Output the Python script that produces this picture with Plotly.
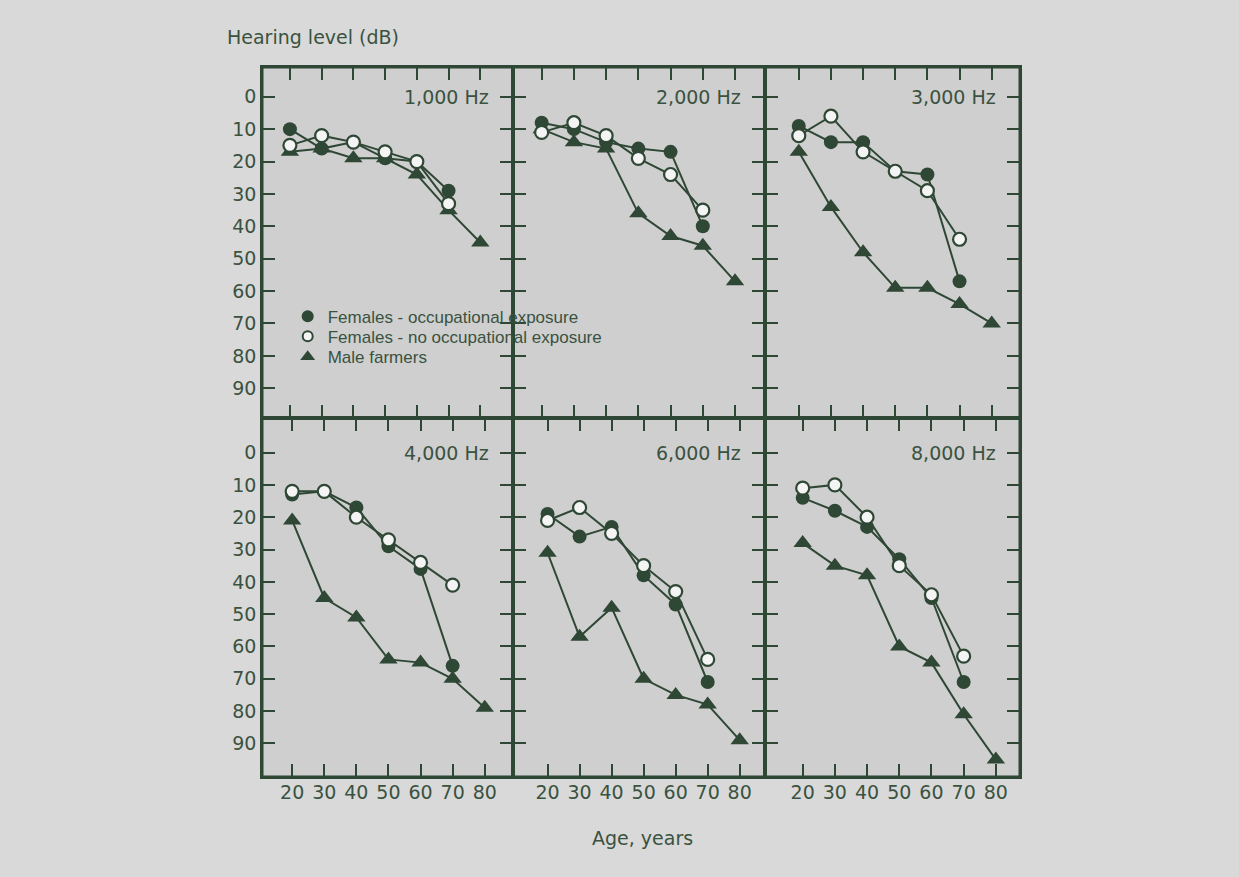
import plotly.graph_objects as go

# ---------------- data ----------------
ages_female = [20, 30, 40, 50, 60, 70]
ages_male = [20, 30, 40, 50, 60, 70, 80]
panel_labels = ["1,000 Hz", "2,000 Hz", "3,000 Hz", "4,000 Hz", "6,000 Hz", "8,000 Hz"]
y_tick_values = [0, 10, 20, 30, 40, 50, 60, 70, 80, 90]
x_tick_values = [20, 30, 40, 50, 60, 70, 80]

occ_1000 = [10, 16, 14, 19, 20, 29]
noocc_1000 = [15, 12, 14, 17, 20, 33]
male_1000 = [17, 16, 19, 19, 24, 35, 45]

occ_2000 = [8, 10, 14, 16, 17, 40]
noocc_2000 = [11, 8, 12, 19, 24, 35]
male_2000 = [10, 14, 16, 36, 43, 46, 57]

occ_3000 = [9, 14, 14, 23, 24, 57]
noocc_3000 = [12, 6, 17, 23, 29, 44]
male_3000 = [17, 34, 48, 59, 59, 64, 70]

occ_4000 = [13, 12, 17, 29, 36, 66]
noocc_4000 = [12, 12, 20, 27, 34, 41]
male_4000 = [21, 45, 51, 64, 65, 70, 79]

occ_6000 = [19, 26, 23, 38, 47, 71]
noocc_6000 = [21, 17, 25, 35, 43, 64]
male_6000 = [31, 57, 48, 70, 75, 78, 89]

occ_8000 = [14, 18, 23, 33, 45, 71]
noocc_8000 = [11, 10, 20, 35, 44, 63]
male_8000 = [28, 35, 38, 60, 65, 81, 95]

occ_series = [occ_1000, occ_2000, occ_3000, occ_4000, occ_6000, occ_8000]
noocc_series = [noocc_1000, noocc_2000, noocc_3000, noocc_4000, noocc_6000, noocc_8000]
male_series = [male_1000, male_2000, male_3000, male_4000, male_6000, male_8000]

legend_names = ["Females - occupational exposure",
                "Females - no occupational exposure",
                "Male farmers"]

# ---------------- style ----------------
INK = "#2f4735"
TEXT = "#3a5240"
PAPER = "#d9d9d9"
PLOT = "#cfcfcf"
TICK_FONT = dict(family="DejaVu Sans", size=19, color=TEXT)

x_domains = [[0.0, 0.3311], [0.3311, 0.6636], [0.6636, 1.0]] * 2
y_domains = [[0.5056, 1.0]] * 3 + [[0.0, 0.5056]] * 3
x_ranges = [[11.2, 90.3], [11.1, 89.3], [9.5, 88.8],
            [10.6, 88.8], [9.2, 87.9], [8.3, 87.5]]
y_ranges = [[99.2, -9.2]] * 3 + [[100.4, -10.7]] * 3

fig = go.Figure()

for i in range(6):
    xa = "x" if i == 0 else f"x{i+1}"
    ya = "y" if i == 0 else f"y{i+1}"
    fig.add_trace(go.Scatter(
        x=ages_male, y=male_series[i], xaxis=xa, yaxis=ya, mode="lines+markers",
        line=dict(color=INK, width=2),
        marker=dict(symbol="triangle-up", size=16, color=INK, line=dict(width=0)),
        showlegend=False, name=legend_names[2]))
    fig.add_trace(go.Scatter(
        x=ages_female, y=occ_series[i], xaxis=xa, yaxis=ya, mode="lines+markers",
        line=dict(color=INK, width=2),
        marker=dict(symbol="circle", size=14, color=INK, line=dict(width=0)),
        showlegend=False, name=legend_names[0]))
    fig.add_trace(go.Scatter(
        x=ages_female, y=noocc_series[i], xaxis=xa, yaxis=ya, mode="lines+markers",
        line=dict(color=INK, width=2),
        marker=dict(symbol="circle", size=13, color="#f4f4f4", line=dict(width=2.2, color=INK)),
        showlegend=False, name=legend_names[1]))

# legend-only marker entries, one legend each so their spacing matches
fig.add_trace(go.Scatter(x=[None], y=[None], mode="markers", name=legend_names[0],
                         legend="legend",
                         marker=dict(symbol="circle", size=12, color=INK, line=dict(width=0))))
fig.add_trace(go.Scatter(x=[None], y=[None], mode="markers", name=legend_names[1],
                         legend="legend2",
                         marker=dict(symbol="circle", size=10, color="#f4f4f4",
                                     line=dict(width=2, color=INK))))
fig.add_trace(go.Scatter(x=[None], y=[None], mode="markers", name=legend_names[2],
                         legend="legend3",
                         marker=dict(symbol="triangle-up", size=13, color=INK, line=dict(width=0))))

legend_common = dict(x=0.0339, xanchor="left", yanchor="top",
                     bgcolor="rgba(0,0,0,0)", borderwidth=0,
                     font=dict(family="Liberation Sans", size=17, color=TEXT))

layout = dict(
    width=1239, height=877,
    margin=dict(l=262, r=219, t=67, b=100),
    paper_bgcolor=PAPER, plot_bgcolor=PLOT,
    font=dict(family="DejaVu Sans", color=TEXT),
    showlegend=True,
    legend=dict(y=0.6737, **legend_common),
    legend2=dict(y=0.6456, **legend_common),
    legend3=dict(y=0.6166, **legend_common),
    shapes=[dict(type="rect", xref="paper", yref="paper", x0=0, x1=1, y0=0, y1=1,
                 line=dict(color=INK, width=3), layer="above")],
)

for i in range(6):
    xkey = "xaxis" if i == 0 else f"xaxis{i+1}"
    ykey = "yaxis" if i == 0 else f"yaxis{i+1}"
    ya_name = "y" if i == 0 else f"y{i+1}"
    xa_name = "x" if i == 0 else f"x{i+1}"
    layout[xkey] = dict(
        domain=x_domains[i], range=x_ranges[i], anchor=ya_name,
        tickmode="array", tickvals=x_tick_values, ticktext=[str(v) for v in x_tick_values],
        ticks="inside", ticklen=13, tickwidth=2.4, tickcolor=INK,
        showline=True, linecolor=INK, linewidth=1.6, mirror="ticks",
        showgrid=False, zeroline=False,
        showticklabels=(i >= 3), tickfont=TICK_FONT, ticklabelstandoff=-3,
    )
    layout[ykey] = dict(
        domain=y_domains[i], range=y_ranges[i], anchor=xa_name,
        tickmode="array", tickvals=y_tick_values, ticktext=[str(v) for v in y_tick_values],
        ticks="inside", ticklen=13, tickwidth=2.4, tickcolor=INK,
        showline=True, linecolor=INK, linewidth=1.6, mirror="ticks",
        showgrid=False, zeroline=False,
        showticklabels=(i in (0, 3)), tickfont=TICK_FONT, ticklabelstandoff=0,
    )

fig.update_layout(**layout)

annotations = []
for i in range(6):
    xa_name = "x" if i == 0 else f"x{i+1}"
    ya_name = "y" if i == 0 else f"y{i+1}"
    annotations.append(dict(
        text=panel_labels[i], xref=f"{xa_name} domain", yref=ya_name,
        x=1, y=0, xanchor="right", yanchor="middle", xshift=-22,
        showarrow=False, font=dict(family="DejaVu Sans", size=19, color=TEXT)))

annotations.append(dict(text="Hearing level (dB)", xref="paper", yref="paper",
                        x=-0.0488, y=1.0423, xanchor="left", yanchor="middle",
                        showarrow=False, font=dict(family="DejaVu Sans", size=19, color=TEXT)))
annotations.append(dict(text="Age, years", xref="paper", yref="paper",
                        x=0.5026, y=-0.0859, xanchor="center", yanchor="middle",
                        showarrow=False, font=dict(family="DejaVu Sans", size=19, color=TEXT)))
fig.update_layout(annotations=annotations)

fig.write_html("out.html", config={"displayModeBar": False},
               post_script="document.body.style.margin='0';")
